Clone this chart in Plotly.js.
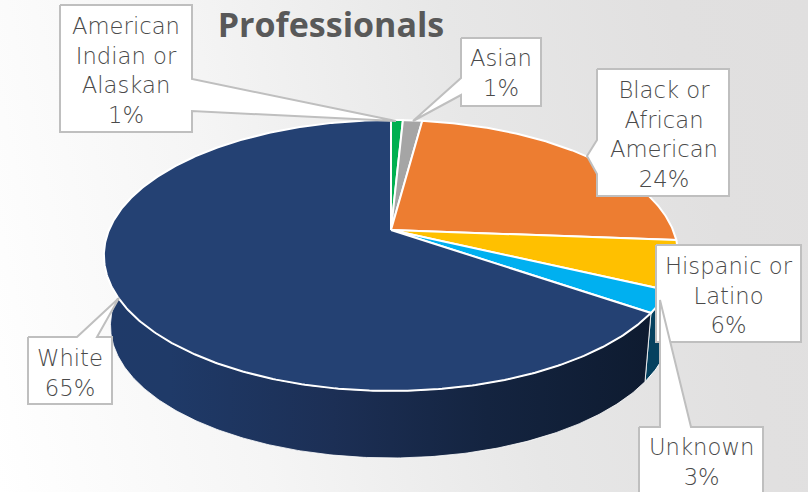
<!DOCTYPE html>
<html><head><meta charset="utf-8">
<script src="https://cdn.plot.ly/plotly-3.0.1.min.js"></script>
<style>html,body{margin:0;padding:0;width:808px;height:492px;overflow:hidden;background:linear-gradient(78deg,#ffffff 0%,#f5f5f5 30%,#e7e7e7 60%,#e1e0e0 85%,#e0dfdf 100%);}</style>
</head><body><div id="chart" style="width:808px;height:492px"></div>
<script>
const categories = ["American Indian or Alaskan","Asian","Black or African American","Hispanic or Latino","Unknown","White"];
const values = [0.8,1.3,24.1,5.8,2.6,65.4];
const labelLines = [["American","Indian or","Alaskan"],["Asian"],["Black or","African","American"],["Hispanic or","Latino"],["Unknown"],["White"]];
const colors = ["#00b050","#a5a5a5","#ed7d31","#ffc000","#00b0f0","#244173"];

const CX=391,CY=230,A=130.7,B=282,K=0.188, WALL_S=0.977, WALL_Y=300.7;
function topPt(t){const u=Math.sin(t),v=Math.cos(t),d=1+K*v;return [CX+B*u/d,CY-A*v/d];}
function lowPt(t){const u=Math.sin(t),v=Math.cos(t),d=1+K*v;return [CX+WALL_S*B*u/d,WALL_Y-WALL_S*A*v/d];}
function arc(f,a,b){const n=Math.max(2,Math.ceil(Math.abs(b-a)/0.01)),o=[];for(let i=0;i<=n;i++)o.push(f(a+(b-a)*i/n));return o;}
const total=values.reduce((s,v)=>s+v,0);
let cum=0;const starts=values.map(v=>{const r=cum/total*2*Math.PI;cum+=v;return r;});
const ends=values.map((v,i)=>starts[i]+v/total*2*Math.PI);

const traces=[];
function poly(pts,fill,line,lw,extra){traces.push(Object.assign({type:"scatter",mode:"lines",x:pts.map(p=>p[0]),y:pts.map(p=>p[1]),fill:"toself",fillcolor:fill,line:{color:line,width:lw},hoverinfo:"skip",showlegend:false},extra||{}));}
function wall(a,b){const p=arc(topPt,a,b).concat(arc(lowPt,b,a));p.push(p[0]);return p;}
const iU=4;
poly(wall(starts[iU],ends[iU]),"#05415f","#ffffff",1);
poly(wall(ends[iU],Math.PI*1.5+0.18),"#1b2c50","rgba(255,255,255,0.8)",1,{fillgradient:{type:"horizontal",colorscale:[[0,"#1f3a69"],[0.12,"#1f3a68"],[0.42,"#1c2f55"],[0.7,"#142440"],[1,"#0e1b30"]]}});
categories.forEach((c,i)=>poly([[CX,CY]].concat(arc(topPt,starts[i],ends[i])).concat([[CX,CY]]),colors[i],"#ffffff",2,{name:c}));
const callouts=[
 [[60,5],[192,5],[192,79],[396,121],[192,111],[192,132],[60,132],[60,5]],
 [[461,38],[541,38],[541,106],[461,106],[461,95],[413,121],[461,78],[461,38]],
 [[597,69],[729,69],[729,196],[597,196],[597,174],[587,156],[597,140],[597,69]],
 [[656,245],[801,245],[801,342],[656,342],[656,245]],
 [[639,427],[660,427],[660,300],[691,427],[763,427],[763,500],[639,500],[639,427]],
 [[28,337],[77,337],[119,298],[97,337],[112,337],[112,404],[28,404],[28,337]]
];
[5,0,1,2,3,4].forEach(i=>poly(callouts[i],"#ffffff","#bfbfbf",2));
const textAt=[[126,70],[501,73],[664,134.5],[729,295.5],[701,462],[70,372.5]];
const annotations=categories.map((c,i)=>({xref:"x",yref:"y",x:textAt[i][0],y:textAt[i][1],xanchor:"center",yanchor:"middle",showarrow:false,align:"center",
 text:labelLines[i].concat([Math.round(values[i])+"%"]).join("<br>"),font:{family:"DejaVu Sans, sans-serif",weight:300,size:22.7,color:"#4a4a4a"}}));
const layout={width:808,height:492,margin:{l:0,r:0,t:0,b:0},paper_bgcolor:"rgba(0,0,0,0)",plot_bgcolor:"rgba(0,0,0,0)",
 title:{text:"<b>Professionals</b>",x:331/808,xanchor:"center",y:0.949,yanchor:"middle",font:{family:"Open Sans, sans-serif",size:34,color:"#595959"}},
 xaxis:{range:[0,808],visible:false,fixedrange:true},yaxis:{range:[492,0],visible:false,fixedrange:true},annotations,showlegend:false};
Plotly.newPlot("chart",traces,layout,{displayModeBar:false,staticPlot:true});
</script></body></html>
